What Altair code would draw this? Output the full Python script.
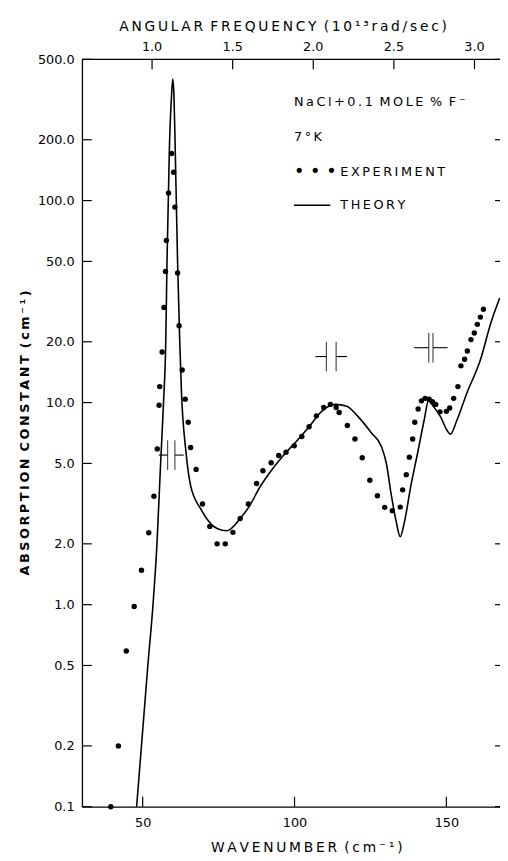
import math
import altair as alt
import pandas as pd

# ---- data ----
exp_x = [39.5, 42.0, 44.6, 47.2, 49.6, 52.0, 53.7, 54.8, 55.4, 55.6, 56.4, 57.0, 57.5, 57.8,
         58.5, 59.5, 60.2, 60.6, 61.5, 62.0, 63.0, 64.0, 65.0, 65.8, 67.6, 69.7, 72.1, 74.5,
         77.2, 79.7, 82.1, 84.8, 87.5, 89.6, 92.3, 94.8, 97.2, 99.9, 102.4, 104.8, 107.2,
         109.6, 111.8, 113.7, 114.7, 117.4, 119.9, 122.3, 124.8, 127.3, 129.7, 132.2, 134.8,
         135.6, 136.8, 137.8, 138.9, 139.6, 140.7, 141.8, 143.0, 144.3, 145.4, 146.5, 147.9,
         150.0, 151.1, 152.4, 153.8, 154.8, 156.0, 156.9, 158.1, 159.2, 160.2, 161.2, 162.2]
exp_y = [0.1, 0.2, 0.59, 0.98, 1.48, 2.27, 3.44, 5.9, 9.7, 12.0, 17.8, 29.6, 44.6, 63.5,
         109, 171, 138, 92.8, 43.8, 24.0, 14.5, 10.4, 8.0, 6.0, 4.67, 3.15, 2.44, 2.0,
         2.0, 2.28, 2.67, 3.15, 3.98, 4.6, 5.04, 5.47, 5.68, 6.12, 6.8, 7.6, 8.6,
         9.45, 9.8, 9.45, 8.93, 7.7, 6.6, 5.33, 4.13, 3.46, 3.03, 2.92, 3.04,
         3.7, 4.4, 5.37, 6.6, 8.0, 9.3, 10.2, 10.5, 10.4, 10.1, 9.8, 9.0,
         9.05, 9.4, 10.5, 12.0, 15.2, 16.4, 18.0, 20.5, 22.1, 24.4, 26.5, 29.0]

th_x = [48.0, 49.6, 51.7, 53.4, 54.7, 55.9, 56.9, 57.6, 58.0, 58.8, 59.5, 59.9, 60.3, 60.7,
        61.5, 62.2, 62.8, 64.2, 65.8, 69.1, 74.5, 77.7, 82.1, 85.3, 88.5, 91.8, 96.1, 100.5,
        104.8, 109.1, 113.4, 117.2, 121.0, 125.4, 128.6, 130.2, 131.9, 133.5, 134.8, 136.2,
        138.3, 140.5, 142.7, 144.1, 145.9, 148.1, 150.2, 151.3, 153.5, 156.7, 161.1, 164.8, 167.6]
th_y = [0.1, 0.2, 0.5, 1.0, 2.0, 5.0, 10.3, 20, 49, 183, 330, 400, 330, 183,
        49, 20, 11, 5.8, 3.87, 2.98, 2.38, 2.32, 2.67, 3.1, 3.8, 4.5, 5.43, 6.4,
        7.6, 9.1, 9.8, 9.6, 8.5, 7.06, 6.07, 5.04, 3.46, 2.57, 2.17, 2.57,
        3.87, 5.6, 8.2, 10.2, 9.5, 8.5, 7.3, 6.98, 8.2, 11.1, 16.1, 25.2, 33.0]

y_ticks = [0.1, 0.2, 0.5, 1, 2, 5, 10, 20, 50, 100, 200, 500]
x_ticks = [50, 100, 150]
omega_ticks = [1.0, 1.5, 2.0, 2.5, 3.0]          # 10^13 rad/sec
CM_PER_OMEGA = 1e13 / (2 * math.pi * 2.998e10)  # wavenumber (cm^-1) per 10^13 rad/s

# resolution markers (center wavenumber, center value, half gap, half width)
res_x = [59.4, 112.1, 144.9]
res_y = [5.5, 16.9, 18.7]
res_gap = [1.2, 1.6, 0.7]
res_half = [4.1, 5.2, 5.5]

W, H = 424, 758
FONT = "DejaVu Sans"
THIN = "\u2009"


def spaced(s):
    """Letter-spaced text (thin spaces between characters, wider between words)."""
    words = s.split(" ")
    return (" " + THIN).join(THIN.join(w) for w in words)


xs = alt.Scale(domain=[30, 167.66], nice=False, zero=False)
ys = alt.Scale(type="log", domain=[0.1, 500], nice=False)
X_AXIS = alt.Axis(values=x_ticks, format="d", ticks=False, tickSize=0, grid=False,
                  labelPadding=10, title=None, domainColor="black", domainWidth=1.3,
                  labelFontSize=13)
Y_AXIS = alt.Axis(values=y_ticks, format=".1f", ticks=False, tickSize=0, grid=False,
                  labelPadding=8, title=None, domainColor="black", domainWidth=1.3,
                  labelFontSize=13)


def X(field):
    return alt.X(field, type="quantitative", scale=xs, axis=X_AXIS)


def Y(field):
    return alt.Y(field, type="quantitative", scale=ys, axis=Y_AXIS)


exp_df = pd.DataFrame({"x": exp_x, "y": exp_y})
th_df = pd.DataFrame({"x": th_x, "y": th_y})
yt_df = pd.DataFrame({"y": y_ticks})
xt_df = pd.DataFrame({"x": x_ticks})
om_df = pd.DataFrame({"x": [o * CM_PER_OMEGA for o in omega_ticks],
                      "label": [f"{o:.1f}" for o in omega_ticks]})
res_df = pd.DataFrame({"x": res_x, "y": res_y, "g": res_gap, "h": res_half})
res_df["l1"] = res_df.x - res_df.h
res_df["l2"] = res_df.x - res_df.g
res_df["r1"] = res_df.x + res_df.g
res_df["r2"] = res_df.x + res_df.h
one = alt.Data(values=[{}])

theory = alt.Chart(th_df).mark_line(color="black", strokeWidth=1.6, interpolate="monotone").encode(
    x=X("x"), y=Y("y"))
points = alt.Chart(exp_df).mark_circle(color="black", size=30, opacity=1).encode(
    x=X("x"), y=Y("y"))

left_ticks = alt.Chart(yt_df).mark_rule(color="black", strokeWidth=1.2).encode(
    y=Y("y"), x=alt.value(0), x2=alt.value(10))
right_ticks = alt.Chart(yt_df).mark_rule(color="black", strokeWidth=1.2).encode(
    y=Y("y"), x=alt.value(W - 5), x2=alt.value(W))
bottom_ticks = alt.Chart(xt_df).mark_rule(color="black", strokeWidth=1.2).encode(
    x=X("x"), y=alt.value(H), y2=alt.value(H - 10))
top_ticks = alt.Chart(om_df).mark_rule(color="black", strokeWidth=1.2).encode(
    x=X("x"), y=alt.value(0), y2=alt.value(10))
top_labels = alt.Chart(om_df).mark_text(font=FONT, fontSize=13, baseline="middle", align="center").encode(
    x=X("x"), y=alt.value(-12), text="label:N")
top_border = alt.Chart(one).mark_rule(color="black", strokeWidth=1.3).encode(
    x=alt.value(0), x2=alt.value(W), y=alt.value(0))


def txt(s, x, y, size=13, weight="normal", angle=0, align="left"):
    return alt.Chart(one).mark_text(text=s, font=FONT, fontSize=size, fontWeight=weight,
                                    angle=angle, align=align, baseline="middle",
                                    color="black").encode(x=alt.value(x), y=alt.value(y))


titles = [
    txt(spaced("ANGULAR FREQUENCY (10¹³rad/sec)"), 204, -33, size=14, align="center"),
    txt(spaced("WAVENUMBER (cm⁻¹)"), 228, 800, size=14, align="center"),
    txt(spaced("ABSORPTION CONSTANT (cm⁻¹)"), -58, 379, size=13, weight="bold", angle=270, align="center"),
    txt(spaced("NaCl+0.1 MOLE % F⁻"), 215, 43, size=13),
    txt(spaced("7°K"), 215, 79, size=13),
    txt("• • •", 215, 114, size=18),
    txt(spaced("EXPERIMENT"), 262, 114, size=13),
    txt(spaced("THEORY"), 262, 148, size=13),
]
legend_line = alt.Chart(one).mark_rule(color="black", strokeWidth=1.4).encode(
    x=alt.value(215), x2=alt.value(252), y=alt.value(148))

res_left = alt.Chart(res_df).mark_rule(color="black", strokeWidth=1.1).encode(
    x=X("l1"), x2="l2", y=Y("y"))
res_right = alt.Chart(res_df).mark_rule(color="black", strokeWidth=1.1).encode(
    x=X("r1"), x2="r2", y=Y("y"))
res_bar1 = alt.Chart(res_df).mark_tick(orient="vertical", size=30, thickness=1.2, color="black").encode(
    x=X("l2"), y=Y("y"))
res_bar2 = alt.Chart(res_df).mark_tick(orient="vertical", size=30, thickness=1.2, color="black").encode(
    x=X("r1"), y=Y("y"))

chart = alt.layer(
    theory, points, left_ticks, right_ticks, bottom_ticks, top_ticks, top_labels, top_border,
    legend_line, res_left, res_right, res_bar1, res_bar2, *titles
).properties(
    width=W, height=H,
    autosize=alt.AutoSizeParams(type="none"),
    padding={"left": 75, "top": 46, "right": 0, "bottom": 49},
    background="white",
).configure_view(stroke=None).configure_axis(
    labelFont=FONT, labelColor="black"
)

chart.save("out.html", embed_options={"renderer": "svg", "actions": False})
